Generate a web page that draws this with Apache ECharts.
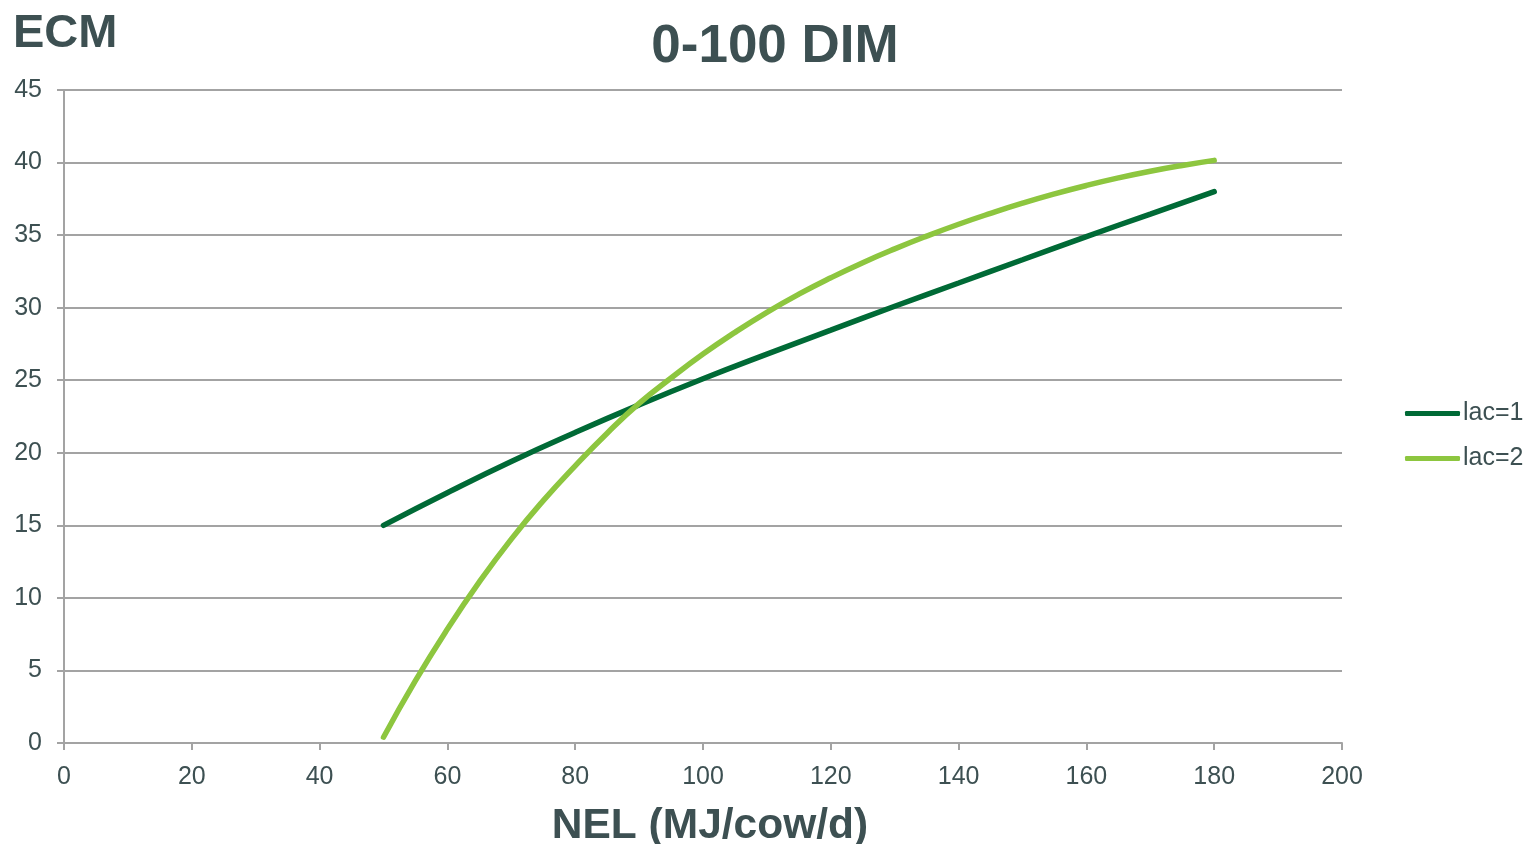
<!DOCTYPE html>
<html>
<head>
<meta charset="utf-8">
<title>0-100 DIM</title>
<script src="https://cdn.jsdelivr.net/npm/echarts@6/dist/echarts.min.js"></script>
<style>
  html, body { margin: 0; padding: 0; background: #ffffff; }
  #chart { width: 1532px; height: 844px; }
</style>
</head>
<body>
<div id="chart"></div>
<script>
// NEL intake (MJ/cow/d) and predicted ECM per lactation group
const nelLac1 = [50, 60, 70, 80, 90, 100, 110, 120, 130, 140, 150, 160, 170, 180];
const ecmLac1 = [15.0, 17.25, 19.4, 21.4, 23.3, 25.1, 26.8, 28.45, 30.1, 31.7, 33.3, 34.9, 36.45, 38.0];

const nelLac2 = [50, 55, 60, 65, 70, 75, 80, 85, 90, 95, 100, 105, 110, 115, 120, 125, 130,
                 135, 140, 145, 150, 155, 160, 165, 170, 175, 180];
const ecmLac2 = [0.4, 4.3, 7.85, 11.1, 14.05, 16.7, 19.1, 21.35, 23.4, 25.15, 26.8, 28.3, 29.68, 30.93, 32.06, 33.1, 34.05,
                 34.93, 35.75, 36.5, 37.2, 37.84, 38.42, 38.94, 39.4, 39.8, 40.15];

const seriesNames = ['lac=1', 'lac=2'];
const seriesColors = ['#006a36', '#8dc63f'];

const xTicks = { min: 0, max: 200, interval: 20 };
const yTicks = { min: 0, max: 45, interval: 5 };

const textColor = '#3d5052';
const gridColor = '#a3a3a3';
const font = '"Liberation Sans", Arial, sans-serif';

function pairs(xs, ys) { return xs.map((x, i) => [x, ys[i]]); }

const chart = echarts.init(document.getElementById('chart'), null, { renderer: 'canvas' });
chart.setOption({
  backgroundColor: '#ffffff',
  animation: false,
  textStyle: { fontFamily: font, color: textColor },
  title: [
    {
      text: '0-100 DIM',
      left: 770, top: 16, textAlign: 'center',
      textStyle: { fontFamily: font, fontSize: 53, fontWeight: 'bold', color: textColor }
    },
    {
      text: 'ECM',
      left: 8, top: 6,
      textStyle: { fontFamily: font, fontSize: 47, fontWeight: 'bold', color: textColor }
    },
    {
      text: 'NEL (MJ/cow/d)',
      left: 705, top: 800, textAlign: 'center',
      textStyle: { fontFamily: font, fontSize: 42.5, fontWeight: 'bold', color: textColor }
    }
  ],
  legend: {
    orient: 'vertical',
    left: 1400, top: 396,
    itemWidth: 55, itemHeight: 5, itemGap: 20,
    icon: 'roundRect',
    textStyle: { fontFamily: font, fontSize: 25, color: textColor, padding: [0, 0, 0, -2] },
    data: seriesNames.map((n, i) => ({ name: n, itemStyle: { color: seriesColors[i] } }))
  },
  grid: { left: 64, right: 190, top: 90, bottom: 101, containLabel: false },
  xAxis: {
    type: 'value',
    min: xTicks.min, max: xTicks.max, interval: xTicks.interval,
    axisLine: { show: true, lineStyle: { color: gridColor, width: 2 } },
    axisTick: { show: true, length: 7, lineStyle: { color: gridColor, width: 2 } },
    axisLabel: { fontFamily: font, fontSize: 25, color: textColor, margin: 22 },
    splitLine: { show: false }
  },
  yAxis: {
    type: 'value',
    min: yTicks.min, max: yTicks.max, interval: yTicks.interval,
    axisLine: { show: true, lineStyle: { color: gridColor, width: 2 } },
    axisTick: { show: true, inside: false, length: 7, lineStyle: { color: gridColor, width: 2 } },
    axisLabel: { fontFamily: font, fontSize: 25, color: textColor, margin: 22 },
    splitLine: { show: true, lineStyle: { color: gridColor, width: 2 } }
  },
  series: [
    {
      name: seriesNames[0], type: 'line', smooth: true, showSymbol: false,
      data: pairs(nelLac1, ecmLac1),
      itemStyle: { color: seriesColors[0] },
      lineStyle: { color: seriesColors[0], width: 5.5, cap: 'round' }
    },
    {
      name: seriesNames[1], type: 'line', smooth: true, showSymbol: false,
      data: pairs(nelLac2, ecmLac2),
      itemStyle: { color: seriesColors[1] },
      lineStyle: { color: seriesColors[1], width: 5.5, cap: 'round' }
    }
  ]
});
</script>
</body>
</html>
